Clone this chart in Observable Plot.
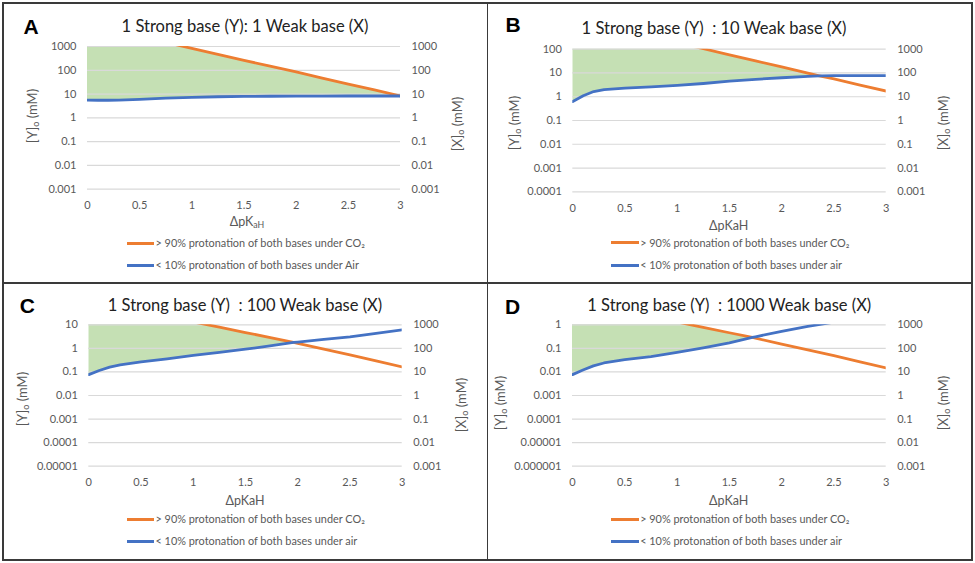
<!DOCTYPE html>
<html>
<head>
<meta charset="utf-8">
<script src="https://cdn.jsdelivr.net/npm/d3@7"></script>
<script src="https://cdn.jsdelivr.net/npm/@observablehq/plot@0.6"></script>
<style>
  html, body { margin: 0; padding: 0; background: #fff; }
  #fig { position: relative; width: 975px; height: 563px; background: #fff; overflow: hidden; font-family: Lato, "Open Sans", sans-serif; }
  .panel { position: absolute; width: 487px; height: 281px; }
  .panel svg { position: absolute; left: 0; top: 0; overflow: visible; }
  .t { position: absolute; white-space: pre; line-height: 1; }
  .t sub { font-size: 70%; vertical-align: -0.25em; line-height: 0; }
  .line { position: absolute; height: 3px; }
</style>
</head>
<body>
<div id="fig"></div>
<script>
// ---------------- DATA ----------------
const xTicks = [0, 0.5, 1, 1.5, 2, 2.5, 3];
const xTickLabels = ["0", "0.5", "1", "1.5", "2", "2.5", "3"];
const rightTickLabels = ["0.001", "0.01", "0.1", "1", "10", "100", "1000"];

// Panel A: 1 strong : 1 weak
const xA      = [0, 0.1, 0.2, 0.3, 0.5, 0.75, 1, 1.25, 1.5, 1.75, 2, 2.25, 2.5, 2.75, 3];
const orangeA = [8300, 6600, 5200, 4200, 2600, 1500, 830, 470, 260, 150, 85, 47, 26, 15, 8.3];
const blueA   = [5.6, 5.5, 5.5, 5.6, 6.0, 6.7, 7.3, 7.7, 8.0, 8.1, 8.2, 8.2, 8.3, 8.3, 8.3];
const yTicksA  = [0.001, 0.01, 0.1, 1, 10, 100, 1000];
const yLabelsA = ["0.001", "0.01", "0.1", "1", "10", "100", "1000"];

// Panel B: 1 strong : 10 weak
const xB      = [0, 0.1, 0.2, 0.3, 0.5, 0.75, 1, 1.25, 1.5, 1.75, 2, 2.25, 2.36, 2.5, 2.75, 3];
const orangeB = [1950, 1550, 1230, 980, 600, 340, 186, 105, 58, 32, 18, 9.8, 7.6, 5.6, 3.1, 1.74];
const blueB   = [0.63, 1.1, 1.65, 2.0, 2.3, 2.6, 3.0, 3.6, 4.5, 5.4, 6.3, 7.2, 7.6, 7.7, 7.8, 7.8];
const yTicksB  = [0.0001, 0.001, 0.01, 0.1, 1, 10, 100];
const yLabelsB = ["0.0001", "0.001", "0.01", "0.1", "1", "10", "100"];

// Panel C: 1 strong : 100 weak
const xC      = [0, 0.1, 0.2, 0.3, 0.5, 0.75, 1, 1.25, 1.5, 1.75, 1.96, 2, 2.25, 2.5, 2.75, 3];
const orangeC = [105, 85, 69, 56, 37, 22, 13.2, 7.9, 4.7, 2.8, 1.79, 1.64, 0.93, 0.53, 0.295, 0.162];
const blueC   = [0.077, 0.115, 0.16, 0.2, 0.265, 0.36, 0.5, 0.68, 0.92, 1.3, 1.79, 1.85, 2.4, 3.1, 4.3, 6.1];
const yTicksC  = [0.00001, 0.0001, 0.001, 0.01, 0.1, 1, 10];
const yLabelsC = ["0.00001", "0.0001", "0.001", "0.01", "0.1", "1", "10"];

// Panel D: 1 strong : 1000 weak
const xD      = [0, 0.1, 0.2, 0.3, 0.5, 0.75, 1, 1.25, 1.5, 1.72, 1.75, 2, 2.25, 2.5, 2.75, 3];
const orangeD = [10.7, 8.7, 7.1, 5.75, 3.8, 2.24, 1.32, 0.77, 0.46, 0.29, 0.27, 0.153, 0.087, 0.049, 0.027, 0.0147];
const blueD   = [0.0077, 0.012, 0.018, 0.024, 0.033, 0.045, 0.068, 0.105, 0.17, 0.29, 0.31, 0.53, 0.85, 1.3, 1.9, 2.7];
const yTicksD  = [0.000001, 0.00001, 0.0001, 0.001, 0.01, 0.1, 1];
const yLabelsD = ["0.000001", "0.00001", "0.0001", "0.001", "0.01", "0.1", "1"];

const titles = [
  "1 Strong base (Y): 1 Weak base (X)",
  "1 Strong base (Y)  : 10 Weak base (X)",
  "1 Strong base (Y)  : 100 Weak base (X)",
  "1 Strong base (Y)  : 1000 Weak base (X)"
];
const letters = ["A", "B", "C", "D"];
const xLabels = ["ΔpK<sub>aH</sub>", "ΔpKaH", "ΔpKaH", "ΔpKaH"];
const legendCO2 = "> 90% protonation of both bases under CO₂";
const legendAir = ["< 10% protonation of both bases under Air", "< 10% protonation of both bases under air", "< 10% protonation of both bases under air", "< 10% protonation of both bases under air"];

// ---------------- LAYOUT ----------------
const ORANGE = "#ED7D31", BLUE = "#4472C4", GREEN = "#C5E0B4", GRID = "#D9D9D9", TICK = "#595959";
const layouts = [
  {ox: 0,   oy: 0,   L: 87,   R: 400,   T: 46,   B: 188.7, title: [245, 26],   letter: [31, 26],   yl: [32, 116],   yr: [457, 124],   xl: [247, 222],   lx: [126.7, 154],  ly: [243, 265.3]},
  {ox: 487, oy: 0,   L: 85.3, R: 398.7, T: 48.7, B: 191.3, title: [227, 28],   letter: [26, 24],   yl: [26.7, 122.5], yr: [456, 122.5], xl: [241.7, 225.7], lx: [124, 151.7], ly: [242.7, 265]},
  {ox: 0,   oy: 282, L: 88.3, R: 401.7, T: 42.3, B: 183.7, title: [245, 22.7], letter: [27.3, 22.7], yl: [21.7, 117], yr: [460.7, 122.5], xl: [245, 219],   lx: [126.7, 154],  ly: [237.3, 259.3]},
  {ox: 487, oy: 282, L: 85,   R: 398.7, T: 42.3, B: 183.7, title: [242.3, 23], letter: [25.7, 24], yl: [13.3, 120.7], yr: [456, 120.7], xl: [241.7, 219], lx: [124, 151.7],  ly: [237.3, 259.3]}
];
const series = [
  {x: xA, orange: orangeA, blue: blueA, ticks: yTicksA, labels: yLabelsA},
  {x: xB, orange: orangeB, blue: blueB, ticks: yTicksB, labels: yLabelsB},
  {x: xC, orange: orangeC, blue: blueC, ticks: yTicksC, labels: yLabelsC},
  {x: xD, orange: orangeD, blue: blueD, ticks: yTicksD, labels: yLabelsD}
];

const fig = document.getElementById("fig");
const W = 487, H = 215;

function addText(parent, html, x, y, css, anchor = "center") {
  const s = document.createElement("div");
  s.className = "t";
  s.innerHTML = html;
  s.style.left = x + "px";
  s.style.top = y + "px";
  const tx = anchor === "start" ? "0" : "-50%";
  s.style.transform = `translate(${tx}, -50%)` + (css.rotate ? " rotate(-90deg)" : "");
  Object.assign(s.style, css.style || {});
  parent.appendChild(s);
  return s;
}
function esc(t) { return t.replace(/&/g, "&amp;").replace(/</g, "&lt;").replace(/>/g, "&gt;"); }

series.forEach((s, i) => {
  const lay = layouts[i];
  const panel = document.createElement("div");
  panel.className = "panel";
  panel.style.left = lay.ox + "px";
  panel.style.top = lay.oy + "px";
  fig.appendChild(panel);

  const data = s.x.map((x, j) => ({x, orange: s.orange[j], blue: s.blue[j]}));
  const areaData = data.filter(d => d.orange >= d.blue);
  const leftFmt = d => s.labels[s.ticks.indexOf(d)];
  const rightFmt = d => rightTickLabels[s.ticks.indexOf(d)];
  const xFmt = d => xTickLabels[xTicks.indexOf(d)];

  const chart = Plot.plot({
    width: W, height: H,
    marginLeft: lay.L, marginRight: W - lay.R, marginTop: lay.T, marginBottom: H - lay.B,
    style: {fontFamily: "Lato, 'Open Sans', sans-serif", fontSize: "11px", color: TICK, background: "transparent", overflow: "visible"},
    x: {domain: [0, 3]},
    y: {type: "log", domain: [s.ticks[0], s.ticks[s.ticks.length - 1]]},
    marks: [
      Plot.areaY(areaData, {x: "x", y1: "blue", y2: "orange", fill: GREEN, clip: true}),
      Plot.gridY(s.ticks, {stroke: GRID, strokeOpacity: 1, strokeWidth: 1.2}),
      Plot.line(data, {x: "x", y: "orange", stroke: ORANGE, strokeWidth: 2.8, clip: true}),
      Plot.line(data, {x: "x", y: "blue", stroke: BLUE, strokeWidth: 2.8, clip: true}),
      Plot.axisY(s.ticks, {anchor: "left", tickSize: 0, tickPadding: 11, tickFormat: leftFmt, label: null}),
      Plot.axisY(s.ticks, {anchor: "right", tickSize: 0, tickPadding: 11, tickFormat: rightFmt, label: null}),
      Plot.axisX(xTicks, {anchor: "bottom", tickSize: 0, tickPadding: 12, tickFormat: xFmt, label: null})
    ]
  });
  panel.appendChild(chart);

  addText(panel, esc(titles[i]), lay.title[0], lay.title[1], {style: {fontSize: "16.5px", color: "#222"}});
  addText(panel, letters[i], lay.letter[0], lay.letter[1], {style: {fontSize: "21px", fontWeight: "bold", color: "#000", fontFamily: "'Liberation Sans', Arial, sans-serif"}});
  addText(panel, "[Y]<sub>o</sub> (mM)", lay.yl[0], lay.yl[1], {rotate: true, style: {fontSize: "13px", color: TICK}});
  addText(panel, "[X]<sub>o</sub> (mM)", lay.yr[0], lay.yr[1], {rotate: true, style: {fontSize: "13px", color: TICK}});
  addText(panel, xLabels[i], lay.xl[0], lay.xl[1], {style: {fontSize: "12.5px", color: TICK}});

  [[ORANGE, legendCO2], [BLUE, legendAir[i]]].forEach(([col, txt], k) => {
    const ln = document.createElement("div");
    ln.className = "line";
    ln.style.background = col;
    ln.style.left = lay.lx[0] + "px";
    ln.style.width = (lay.lx[1] - lay.lx[0]) + "px";
    ln.style.top = (lay.ly[k] - 1.5) + "px";
    panel.appendChild(ln);
    addText(panel, esc(txt), lay.lx[1] + 1.5, lay.ly[k], {style: {fontSize: "10.9px", color: TICK}}, "start");
  });
});

// frame borders
const border = document.createElement("div");
Object.assign(border.style, {position: "absolute", left: "2px", top: "2px", width: "967px", height: "555px", border: "2px solid #3a3a3a"});
fig.appendChild(border);
const vdiv = document.createElement("div");
Object.assign(vdiv.style, {position: "absolute", left: "486.5px", top: "3px", width: "1.5px", height: "556px", background: "#3a3a3a"});
fig.appendChild(vdiv);
const hdiv = document.createElement("div");
Object.assign(hdiv.style, {position: "absolute", left: "3px", top: "282px", width: "969px", height: "1.5px", background: "#3a3a3a"});
fig.appendChild(hdiv);
</script>
</body>
</html>
